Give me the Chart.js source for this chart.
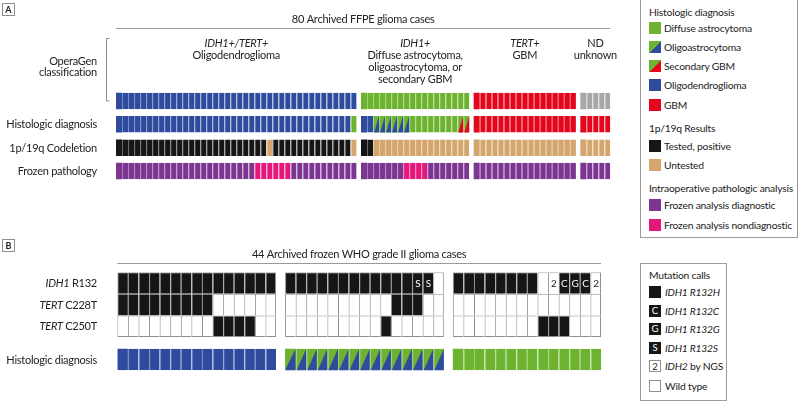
<!DOCTYPE html>
<html>
<head>
<meta charset="utf-8">
<title>OperaGen glioma cases</title>
<script src="https://cdn.jsdelivr.net/npm/chart.js@4.4.1/dist/chart.umd.min.js"></script>
<style>
  body { margin: 0; background: #fff; }
  #wrap { position: relative; width: 800px; height: 401px; overflow: hidden; font-family: Lato, sans-serif; color: #222; }
  #wrap canvas { position: absolute; left: 0; top: 0; }
  .box { position: absolute; border: 1px solid #9a9a9a; box-sizing: border-box; background: #fff; }
  .txt { position: absolute; font-size: 10.3px; letter-spacing: -0.2px; line-height: 14px; white-space: nowrap; }
  .sw { position: absolute; width: 12px; height: 12px; box-sizing: border-box; font-size: 9.5px; line-height: 12px; text-align: center; }
</style>
</head>
<body>
<div id="wrap">
  <canvas id="chartA" width="800" height="401"></canvas>
  <canvas id="chartB" width="800" height="401"></canvas>
</div>
<script>
const FONT = 'Lato, sans-serif';

// ---- Panel A: 80 archived FFPE glioma cases ----
const titleA = '80 Archived FFPE glioma cases';
const groupLabelsA = [
  ['IDH1+/TERT+', 'Oligodendroglioma'],
  ['IDH1+', 'Diffuse astrocytoma,', 'oligoastrocytoma, or', 'secondary GBM'],
  ['TERT+', 'GBM'],
  ['ND', 'unknown']
];
const groupSizesA = [40, 18, 17, 5];
const rowLabelsA = ['', 'Histologic diagnosis', '1p/19q Codeletion', 'Frozen pathology'];
// runs of [call, number of cases], left to right
const operaGenA = [['oligo', 40], ['astro', 18], ['gbm', 17], ['nd', 5]];
const histologyA = [['oligo', 39], ['astro', 1], ['oligo', 2], ['oligoastro', 6], ['astro', 8], ['secgbm', 2], ['gbm', 22]];
const codeletionA = [['pos', 25], ['untested', 1], ['pos', 13], ['untested', 1], ['pos', 2], ['untested', 38]];
const frozenA = [['diag', 23], ['nondiag', 6], ['diag', 18], ['nondiag', 4], ['diag', 29]];

// ---- Panel B: 44 archived frozen WHO grade II cases ----
const titleB = '44 Archived frozen WHO grade II glioma cases';
const groupSizesB = [15, 15, 14];
const rowLabelsB = [['IDH1', ' R132'], ['TERT', ' C228T'], ['TERT', ' C250T'], ['', 'Histologic diagnosis']];
const idhB = [['R132H', 27], ['R132S', 2], ['wt', 1], ['R132H', 8], ['wt', 1], ['IDH2', 1], ['R132C', 1], ['R132G', 1], ['R132C', 1], ['IDH2', 1]];
const c228tB = [['mut', 9], ['wt', 16], ['mut', 3], ['wt', 16]];
const c250tB = [['wt', 9], ['mut', 4], ['wt', 11], ['mut', 1], ['wt', 13], ['mut', 3], ['wt', 3]];
const histologyB = [['oligo', 15], ['oligoastro', 15], ['astro', 14]];

// legends
const legendA = [
  ['', 'Histologic diagnosis'], ['astro', 'Diffuse astrocytoma'], ['oligoastro', 'Oligoastrocytoma'],
  ['secgbm', 'Secondary GBM'], ['oligo', 'Oligodendroglioma'], ['gbm', 'GBM'],
  ['', '1p/19q Results'], ['pos', 'Tested, positive'], ['untested', 'Untested'],
  ['', 'Intraoperative pathologic analysis'], ['diag', 'Frozen analysis diagnostic'], ['nondiag', 'Frozen analysis nondiagnostic']
];
const legendB = [
  ['', ['', 'Mutation calls']], ['R132H', ['IDH1 R132H', '']], ['R132C', ['IDH1 R132C', '']],
  ['R132G', ['IDH1 R132G', '']], ['R132S', ['IDH1 R132S', '']], ['IDH2', ['IDH2', ' by NGS']], ['wt', ['', 'Wild type']]
];

// colours
const BLUE = '#2e4b9e', GREEN = '#6db330', RED = '#e3061d', GREY = '#a7a7a7', BLACK = '#161616',
      TAN = '#d4a56c', PURPLE = '#7d3592', PINK = '#e5177b';
const fill = {
  oligo: BLUE, astro: GREEN, oligoastro: GREEN, secgbm: GREEN, gbm: RED, nd: GREY,
  pos: BLACK, untested: TAN, diag: PURPLE, nondiag: PINK,
  R132H: BLACK, R132C: BLACK, R132G: BLACK, R132S: BLACK, IDH2: '#fff', wt: '#fff', mut: BLACK
};
const corner = { oligoastro: BLUE, secgbm: RED };
const letter = { R132C: 'C', R132G: 'G', R132S: 'S', IDH2: '2' };

// layout
const GAP_A = 0.73, GAP_B = 0.85;
const LABEL_X = 97;
const TEXT_SIZE = 11;
const legendYA = [12, 28, 47, 66.3, 85.3, 104.7, 128.3, 145.5, 164.5, 188.3, 205.3, 224.5];
const legendYB = [275, 292, 311, 329, 347.5, 366, 386.3];
const rowPosB = [0, 1, 2, 3.54];

function tint(hex, t) {
  const n = parseInt(hex.slice(1), 16);
  const c = [n >> 16, (n >> 8) & 255, n & 255].map(v => Math.round(v + (255 - v) * t));
  return `rgb(${c[0]},${c[1]},${c[2]})`;
}

function makeCells(runs, sizes, gap, row, grid, bottom) {
  const codes = [];
  runs.forEach(([code, n]) => { for (let k = 0; k < n; k++) codes.push(code); });
  const out = [];
  let i = 0;
  sizes.forEach((size, g) => {
    for (let k = 0; k < size; k++, i++) {
      const x0 = i + g * gap;
      out.push({ x: [x0, x0 + 1], y: row, code: codes[i], first: k === 0, last: k === size - 1, grid, bottom });
    }
  });
  return out;
}

function cellDataset(data, thick) {
  return {
    data,
    barThickness: thick,
    borderSkipped: false,
    inflateAmount: 0,
    backgroundColor: data.map(d => fill[d.code]),
    borderColor: data.map(d => d.grid ? '#8e8e8e' : tint(fill[d.code], 0.35)),
    borderWidth: data.map(d => d.grid
      ? { left: 1, top: 1, right: d.last ? 1 : 0, bottom: d.bottom ? 1 : 0 }
      : { left: d.first ? 0 : 1, top: 0, right: 0, bottom: 0 })
  };
}

function drawParts(ctx, parts, x, y, size, align) {
  const fonts = [`italic ${size}px ${FONT}`, `${size}px ${FONT}`];
  ctx.letterSpacing = '-0.25px';
  let w = 0;
  parts.forEach((t, k) => { ctx.font = fonts[k]; w += ctx.measureText(t).width; });
  let cx = align === 'right' ? x - w : align === 'center' ? x - w / 2 : x;
  ctx.textAlign = 'left';
  parts.forEach((t, k) => { ctx.font = fonts[k]; ctx.fillText(t, cx, y); cx += ctx.measureText(t).width; });
  ctx.letterSpacing = '0px';
}

function letterBox(ctx, ch, top) {
  ctx.strokeStyle = '#8e8e8e';
  ctx.lineWidth = 1;
  ctx.strokeRect(2.5, top + 0.5, 12, 12);
  ctx.fillStyle = '#222';
  ctx.font = `bold 9px ${FONT}`;
  ctx.textAlign = 'center';
  ctx.fillText(ch, 8.5, top + 7);
}

// triangles and letters on top of the cells
const cellMarks = {
  id: 'cellMarks',
  afterDatasetsDraw(chart) {
    const ctx = chart.ctx;
    const data = chart.data.datasets[0].data;
    ctx.save();
    chart.getDatasetMeta(0).data.forEach((bar, j) => {
      const d = data[j];
      const p = bar.getProps(['x', 'y', 'base', 'height'], true);
      const left = Math.min(p.x, p.base), right = Math.max(p.x, p.base);
      const top = p.y - p.height / 2, bottom = p.y + p.height / 2;
      if (corner[d.code]) {
        ctx.fillStyle = corner[d.code];
        ctx.beginPath();
        ctx.moveTo(left + (d.first ? 0 : 1), bottom);
        ctx.lineTo(right, top);
        ctx.lineTo(right, bottom);
        ctx.closePath();
        ctx.fill();
      }
      if (letter[d.code]) {
        ctx.fillStyle = fill[d.code] === BLACK ? '#fff' : '#222';
        ctx.font = `10px ${FONT}`;
        ctx.textAlign = 'center';
        ctx.textBaseline = 'middle';
        ctx.fillText(letter[d.code], (left + right) / 2 + 0.5, p.y + 0.5);
      }
    });
    ctx.restore();
  }
};

function groupSpans(sizes, gap) {
  let start = 0;
  return sizes.map((s, g) => { const a = start + g * gap; start += s; return [a, a + s]; });
}

const textA = {
  id: 'textA',
  afterDraw(chart) {
    const { ctx, chartArea: a, scales: { x, y } } = chart;
    ctx.save();
    ctx.textBaseline = 'middle';
    letterBox(ctx, 'A', 3);
    ctx.fillStyle = '#222';
    drawParts(ctx, ['', titleA], (a.left + a.right) / 2, 19, TEXT_SIZE, 'center');
    ctx.strokeStyle = '#9a9a9a';
    ctx.beginPath(); ctx.moveTo(a.left, 28.5); ctx.lineTo(a.right, 28.5); ctx.stroke();
    groupSpans(groupSizesA, GAP_A).forEach(([s, e], g) => {
      const cx = (x.getPixelForValue(s) + x.getPixelForValue(e)) / 2;
      groupLabelsA[g].forEach((line, k) => {
        const parts = (k === 0 && g < 3) ? [line, ''] : ['', line];
        drawParts(ctx, parts, cx, 43.3 + k * 12, TEXT_SIZE, 'center');
      });
    });
    // OperaGen bracket
    const bx = a.left - 9.5, by = y.getPixelForValue(0);
    ctx.strokeStyle = '#8e8e8e';
    ctx.beginPath();
    ctx.moveTo(bx + 3, 38.5); ctx.lineTo(bx, 38.5); ctx.lineTo(bx, by); ctx.lineTo(bx + 3, by);
    ctx.stroke();
    drawParts(ctx, ['', 'OperaGen'], LABEL_X, 61, TEXT_SIZE, 'right');
    drawParts(ctx, ['', 'classification'], LABEL_X, 72.5, TEXT_SIZE, 'right');
    rowLabelsA.forEach((lab, r) => {
      if (lab) drawParts(ctx, ['', lab], LABEL_X, y.getPixelForValue(r) + 0.5, TEXT_SIZE, 'right');
    });
    ctx.restore();
  }
};

const textB = {
  id: 'textB',
  afterDraw(chart) {
    const { ctx, chartArea: a, scales: { y } } = chart;
    ctx.save();
    ctx.textBaseline = 'middle';
    letterBox(ctx, 'B', 239);
    ctx.fillStyle = '#222';
    drawParts(ctx, ['', titleB], (a.left + a.right) / 2, 254, TEXT_SIZE, 'center');
    ctx.strokeStyle = '#9a9a9a';
    ctx.beginPath(); ctx.moveTo(a.left, 263.5); ctx.lineTo(a.right, 263.5); ctx.stroke();
    rowLabelsB.forEach((parts, r) => {
      drawParts(ctx, parts, LABEL_X, y.getPixelForValue(rowPosB[r]) + 0.5, TEXT_SIZE, 'right');
    });
    ctx.restore();
  }
};

function panelChart(id, data, thick, xMax, yMin, yMax, area, plugin) {
  return new Chart(document.getElementById(id), {
    type: 'bar',
    data: { datasets: [cellDataset(data, thick)] },
    options: {
      indexAxis: 'y',
      responsive: false,
      animation: false,
      events: [],
      layout: { padding: { left: area[0], right: 800 - area[1], top: area[2], bottom: 401 - area[3] } },
      plugins: { legend: { display: false }, tooltip: { enabled: false } },
      scales: {
        x: { type: 'linear', display: false, offset: false, min: 0, max: xMax },
        y: { type: 'linear', display: false, offset: false, grace: 0, reverse: true, min: yMin, max: yMax }
      }
    },
    plugins: [cellMarks, plugin]
  });
}

const cellsA = [].concat(
  makeCells(operaGenA, groupSizesA, GAP_A, 0, false, false),
  makeCells(histologyA, groupSizesA, GAP_A, 1, false, false),
  makeCells(codeletionA, groupSizesA, GAP_A, 2, false, false),
  makeCells(frozenA, groupSizesA, GAP_A, 3, false, false)
);
panelChart('chartA', cellsA, 16.5, 80 + 3 * GAP_A, -0.5, 3.5, [116, 610.4, 89.3, 182.7], textA);

const cellsB = [].concat(
  makeCells(idhB, groupSizesB, GAP_B, rowPosB[0], true, false),
  makeCells(c228tB, groupSizesB, GAP_B, rowPosB[1], true, false),
  makeCells(c250tB, groupSizesB, GAP_B, rowPosB[2], true, true),
  makeCells(histologyB, groupSizesB, GAP_B, rowPosB[3], false, false)
);
panelChart('chartB', cellsB, 21.6, 44 + 2 * GAP_B, -0.5, rowPosB[3] + 0.5, [117.3, 601, 272.2, 370.3], textB);

// HTML legends
const wrap = document.getElementById('wrap');
function addEl(cls, style, html) {
  const el = document.createElement('div');
  el.className = cls;
  Object.assign(el.style, style);
  if (html !== undefined) el.innerHTML = html;
  wrap.appendChild(el);
  return el;
}
function swatchStyle(code) {
  if (corner[code]) return { background: `linear-gradient(to top left, ${corner[code]} 50%, ${fill[code]} 50%)` };
  if (fill[code] === '#fff') return { background: '#fff', border: '1px solid #8e8e8e', color: '#222' };
  return { background: fill[code], color: '#fff' };
}
addEl('box', { left: '640px', top: '-1px', width: '158px', height: '239px' });
legendA.forEach(([code, text], k) => {
  const y = legendYA[k];
  if (code) {
    addEl('sw', Object.assign({ left: '649px', top: (y - 6) + 'px' }, swatchStyle(code)));
    addEl('txt', { left: '664px', top: (y - 7) + 'px' }, text);
  } else {
    addEl('txt', { left: '649px', top: (y - 7) + 'px' }, text);
  }
});
addEl('box', { left: '640px', top: '263px', width: '87px', height: '138px' });
legendB.forEach(([code, parts], k) => {
  const y = legendYB[k];
  const html = (parts[0] ? `<i>${parts[0]}</i>` : '') + parts[1];
  if (code) {
    addEl('sw', Object.assign({ left: '649px', top: (y - 6) + 'px' }, swatchStyle(code)), letter[code] || '');
    addEl('txt', { left: '665px', top: (y - 7) + 'px' }, html);
  } else {
    addEl('txt', { left: '649px', top: (y - 7) + 'px' }, html);
  }
});
</script>
</body>
</html>
